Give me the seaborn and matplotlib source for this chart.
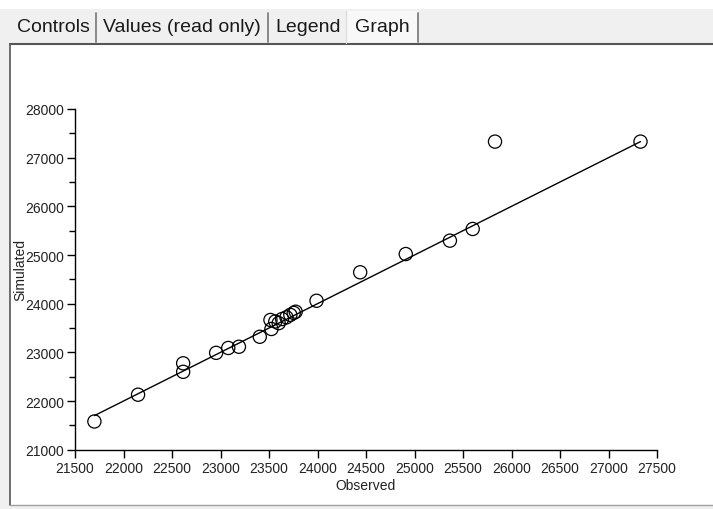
import numpy as np
import pandas as pd
import matplotlib
matplotlib.use("Agg")
import matplotlib.pyplot as plt
from matplotlib.patches import Rectangle
from matplotlib.lines import Line2D
from matplotlib.ticker import MultipleLocator
import seaborn as sns

# ---- data ----
observed = [21700, 22150, 22615, 22615, 22955, 23080, 23190, 23405, 23515, 23525,
            23565, 23600, 23635, 23680, 23720, 23755, 23775, 23990, 24440, 24910,
            25365, 25600, 25830, 27330]
simulated = [21580, 22130, 22775, 22600, 22990, 23090, 23115, 23320, 23665, 23480,
             23635, 23600, 23685, 23720, 23770, 23810, 23835, 24060, 24645, 25020,
             25295, 25535, 27330, 27330]
x_ticks = list(range(21500, 28000, 500))
y_ticks = list(range(21000, 29000, 1000))
tab_labels = ["Controls", "Values (read only)", "Legend", "Graph"]
x_label = "Observed"
y_label = "Simulated"

df = pd.DataFrame({"Observed": observed, "Simulated": simulated})
lo, hi = min(observed), max(observed)
line_df = pd.DataFrame({"x": [lo, hi], "y": [lo, hi]})

sns.set_theme(style="white")
plt.rcParams["font.family"] = ["Liberation Sans", "DejaVu Sans"]

W, H = 713, 510
fig = plt.figure(figsize=(W / 100, H / 100), dpi=100)
fig.patch.set_facecolor("white")

def fx(px):
    return px / W

def fy(py):
    return 1 - py / H

# UI chrome: gray tab strip, left margin and bottom strip
fig.patches.append(Rectangle((0, fy(45)), 1, fy(10) - fy(45), transform=fig.transFigure,
                             facecolor="#f0f0f0", edgecolor="none", zorder=0))
fig.patches.append(Rectangle((0, 0), fx(10), fy(45), transform=fig.transFigure,
                             facecolor="#f0f0f0", edgecolor="none", zorder=0))
fig.patches.append(Rectangle((0, 0), 1, fy(506), transform=fig.transFigure,
                             facecolor="#f0f0f0", edgecolor="none", zorder=0))
# selected tab background
fig.patches.append(Rectangle((fx(346), fy(45)), fx(418) - fx(346), fy(12) - fy(45),
                             transform=fig.transFigure, facecolor="#f8f8f8",
                             edgecolor="none", zorder=0))
# panel border
fig.lines.append(Line2D([fx(10), 1], [fy(45), fy(45)], transform=fig.transFigure,
                        color="#555555", lw=1.5))
fig.lines.append(Line2D([fx(10), fx(10)], [fy(45), fy(506)], transform=fig.transFigure,
                        color="#555555", lw=1.2))
fig.lines.append(Line2D([fx(10), 1], [fy(506), fy(506)], transform=fig.transFigure,
                        color="#a0a0a0", lw=1.0))
fig.lines.append(Line2D([fx(346), fx(346)], [fy(12), fy(44)], transform=fig.transFigure,
                        color="#dddddd", lw=1.0))

tab_x = [17, 103, 275, 355]
sep_x = [96, 268, 418]
for lab, tx in zip(tab_labels, tab_x):
    fig.text(fx(tx), fy(27), lab, fontsize=14, color="#1a1a1a", ha="left", va="center")
for sx in sep_x:
    fig.lines.append(Line2D([fx(sx), fx(sx)], [fy(14), fy(43)], transform=fig.transFigure,
                            color="#808080", lw=1.3))

# ---- plot ----
ax = fig.add_axes([fx(75), fy(450.7), fx(657) - fx(75), fy(110) - fy(450.7)])
ax.set_facecolor("white")
sns.lineplot(data=line_df, x="x", y="y", ax=ax, color="black", lw=1, zorder=2)
sns.scatterplot(data=df, x="Observed", y="Simulated", ax=ax, marker="o", s=90,
                facecolor="none", edgecolor="black", linewidth=0.9, zorder=3)

ax.set_xlim(x_ticks[0], x_ticks[-1])
ax.set_ylim(y_ticks[0], y_ticks[-1])
ax.set_xticks(x_ticks)
ax.set_yticks(y_ticks)
ax.yaxis.set_minor_locator(MultipleLocator(500))
ax.tick_params(axis="both", which="major", direction="out", length=6, width=1,
               color="black", labelsize=10, labelcolor="#222222", pad=2,
               bottom=True, left=True)
ax.tick_params(axis="y", which="minor", direction="out", length=4, width=1,
               color="black", left=True)
for s in ["top", "right"]:
    ax.spines[s].set_visible(False)
for s in ["left", "bottom"]:
    ax.spines[s].set_color("black")
    ax.spines[s].set_linewidth(1)

ax.set_xlabel(x_label, fontsize=10, color="#222222", labelpad=2)
ax.set_ylabel("")
fig.text(fx(20), fy(270), y_label, fontsize=10, color="#222222", rotation=90,
         ha="center", va="center")

fig.savefig("out.png", dpi=100)
